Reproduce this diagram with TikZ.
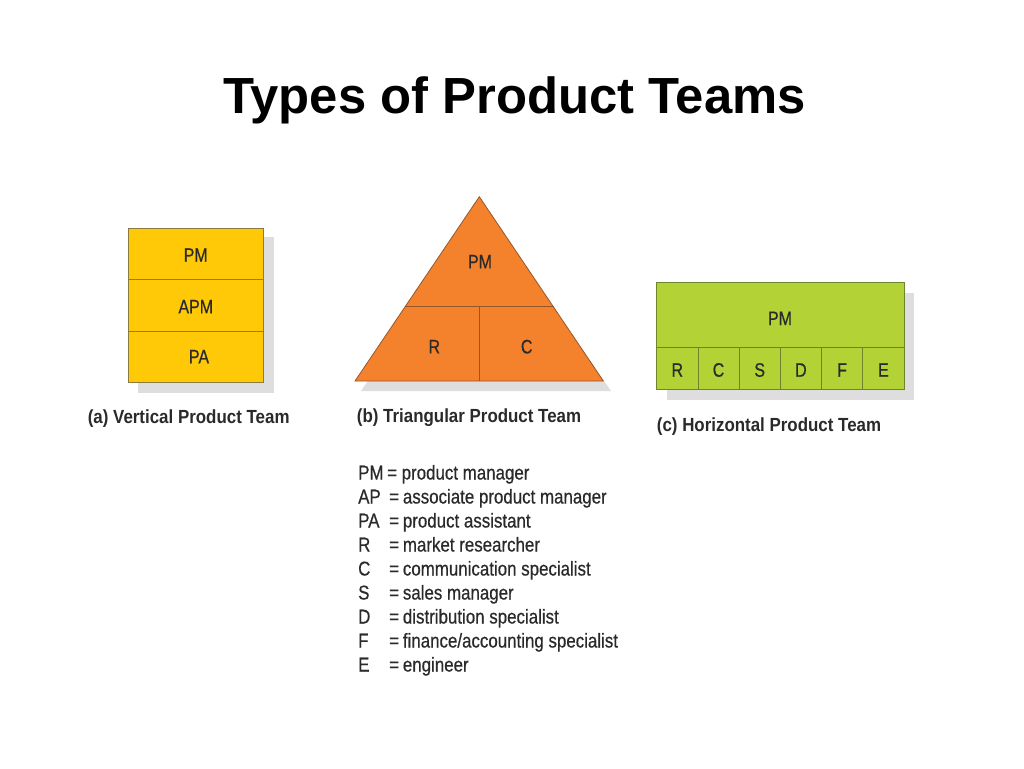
\documentclass[tikz,border=0pt]{standalone}
\usepackage{fontspec}
\setmainfont{Liberation Sans}
\newfontfamily\condfont[FakeStretch=0.82,FakeBold=0.5]{Liberation Sans}
\newfontfamily\legfont[FakeStretch=0.845,FakeBold=0.5]{Liberation Sans}
\newfontfamily\capfont[FakeStretch=0.89]{Liberation Sans}
\definecolor{yel}{HTML}{FFC907}
\definecolor{yelb}{HTML}{8C7B3E}
\definecolor{ora}{HTML}{F4822D}
\definecolor{orab}{HTML}{94572C}
\definecolor{grn}{HTML}{B2D235}
\definecolor{grnb}{HTML}{6E8530}
\definecolor{shad}{HTML}{DEDEDE}
\definecolor{labelc}{HTML}{2A2A2A}
\begin{document}
\begin{tikzpicture}[x=1pt,y=-1pt,
  lbl/.style={font=\condfont\fontsize{19.5}{20}\selectfont, text=labelc, inner sep=0},
  capt/.style={font=\capfont\bfseries\fontsize{19}{20}\selectfont, text=labelc, inner sep=0, anchor=base west},
  leg/.style={font=\legfont\fontsize{20}{22}\selectfont, text=labelc, inner sep=0, anchor=base west},
  shadowfill/.style={fill=shad, draw=none},
  cellline/.style={line width=0.8pt}
]
\useasboundingbox (0,0) rectangle (1024,768);
\fill[white] (0,0) rectangle (1024,768);

% title
\node[anchor=base, font=\bfseries\fontsize{50.8}{52}\selectfont, inner sep=0] (title) at (514.5,113.3) {Types of Product Teams};

% (a) vertical team
\fill[shadowfill] (138,237) rectangle (274,393);
\draw[cellline, draw=yelb, fill=yel] (128.3,228.3) rectangle (263.3,382.7);
\draw[cellline, draw=yelb] (128.3,279.3) -- (263.3,279.3);
\draw[cellline, draw=yelb] (128.3,331) -- (263.3,331);
\node[lbl] (vpm) at (195.7,255) {PM};
\node[lbl] (vapm) at (195.8,306.7) {APM};
\node[lbl] (vpa) at (199,356.7) {PA};
\node[capt] (capa) at (87.6,423.5) {(a) Vertical Product Team};

% (b) triangular team
\fill[shadowfill] (485,207) -- (611,391) -- (361,391) -- cycle;
\draw[cellline, draw=orab, fill=ora] (479.3,196.7) -- (603.3,381) -- (355,381) -- cycle;
\draw[cellline, draw=orab] (405.1,306.7) -- (553.5,306.7);
\draw[cellline, draw=orab] (479.3,306.7) -- (479.3,381);
\node[lbl] (tpm) at (480,261.7) {PM};
\node[lbl] (tr) at (434.3,346.7) {R};
\node[lbl] (tc) at (526.7,346.7) {C};
\node[capt] (capb) at (356.7,422) {(b) Triangular Product Team};

% (c) horizontal team
\fill[shadowfill] (667,293) rectangle (914,400);
\draw[cellline, draw=grnb, fill=grn] (656.7,282.7) rectangle (904,389.3);
\draw[cellline, draw=grnb] (656.7,347.3) -- (904,347.3);
\foreach \xx in {697.9,739.1,780.3,821.5,862.8}
  \draw[cellline, draw=grnb] (\xx,347.3) -- (\xx,389.3);
\node[lbl] (hpm) at (780,318.3) {PM};
\node[lbl] (hr) at (677.3,370) {R};
\node[lbl] (hc) at (718.5,370) {C};
\node[lbl] (hs) at (759.7,370) {S};
\node[lbl] (hd) at (800.9,370) {D};
\node[lbl] (hf) at (842.1,370) {F};
\node[lbl] (he) at (883.4,370) {E};
\node[capt] (capc) at (656.7,431) {(c) Horizontal Product Team};

% legend
\node[leg] (k1) at (358,479.5) {PM};
\node[leg] (e1) at (387,479.5) {=};
\node[leg] (t1) at (401.5,479.5) {product manager};
\node[leg] (k2) at (358,503.5) {AP};
\node[leg] (e2) at (389,503.5) {=};
\node[leg] (t2) at (402.7,503.5) {associate product manager};
\node[leg] (k3) at (358,527.5) {PA};
\node[leg] (e3) at (389,527.5) {=};
\node[leg] (t3) at (402.7,527.5) {product assistant};
\node[leg] (k4) at (358,551.5) {R};
\node[leg] (e4) at (389,551.5) {=};
\node[leg] (t4) at (402.7,551.5) {market researcher};
\node[leg] (k5) at (358,575.5) {C};
\node[leg] (e5) at (389,575.5) {=};
\node[leg] (t5) at (402.7,575.5) {communication specialist};
\node[leg] (k6) at (358,599.5) {S};
\node[leg] (e6) at (389,599.5) {=};
\node[leg] (t6) at (402.7,599.5) {sales manager};
\node[leg] (k7) at (358,623.5) {D};
\node[leg] (e7) at (389,623.5) {=};
\node[leg] (t7) at (402.7,623.5) {distribution specialist};
\node[leg] (k8) at (358,647.5) {F};
\node[leg] (e8) at (389,647.5) {=};
\node[leg] (t8) at (402.7,647.5) {finance/accounting specialist};
\node[leg] (k9) at (358,671.5) {E};
\node[leg] (e9) at (389,671.5) {=};
\node[leg] (t9) at (402.7,671.5) {engineer};
\end{tikzpicture}
\end{document}
